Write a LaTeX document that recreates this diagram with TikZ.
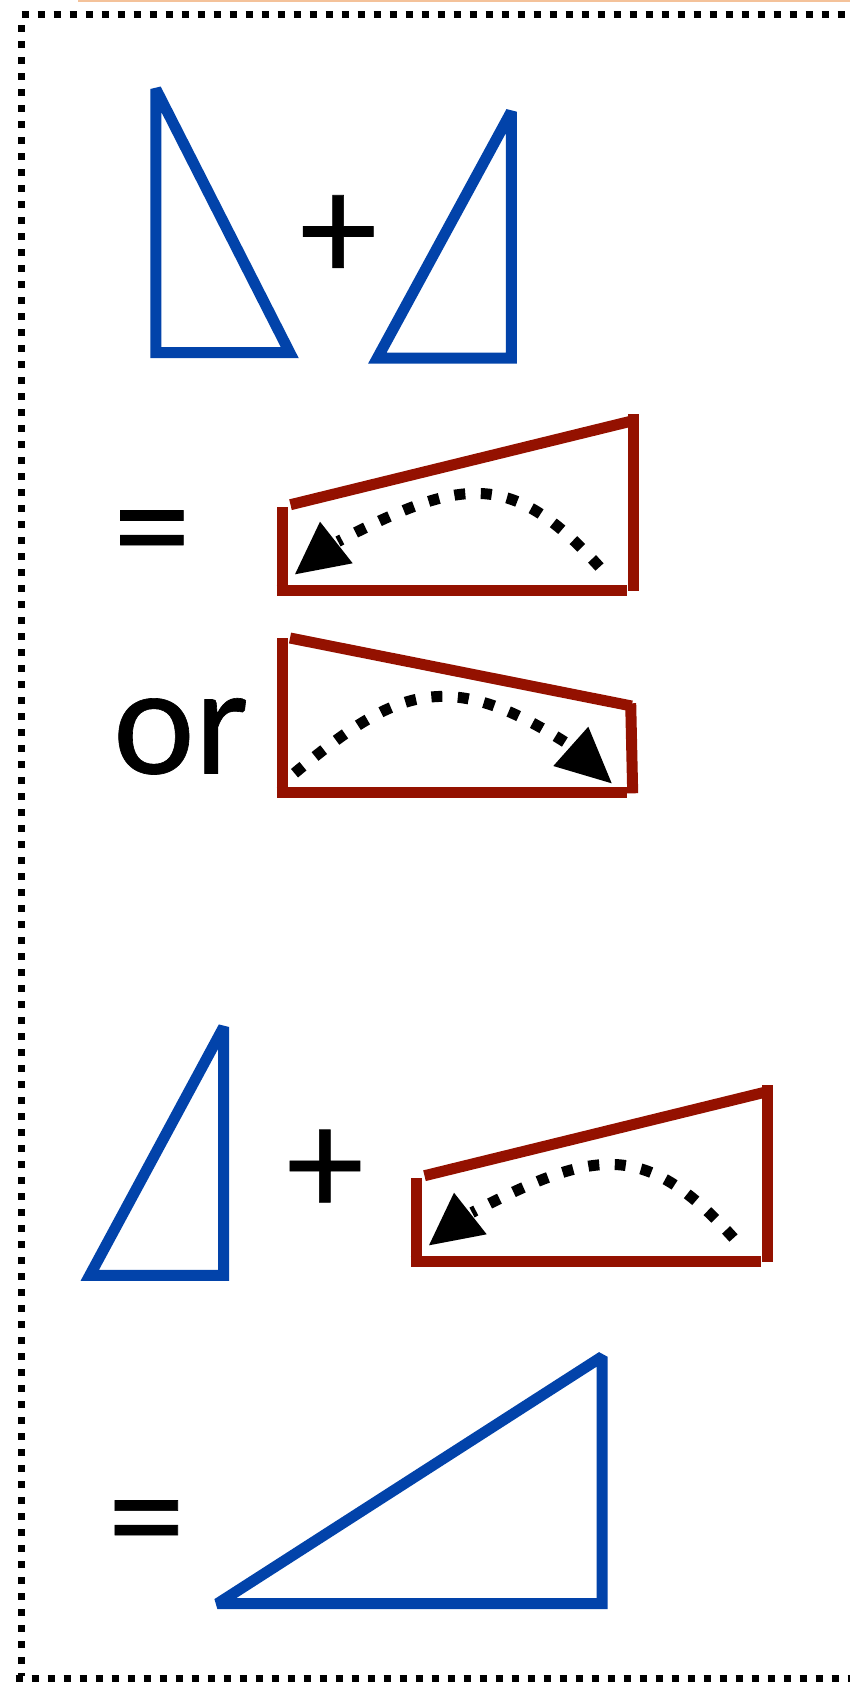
\documentclass[tikz,border=0pt]{standalone}
\usepackage{fontspec}
\newfontfamily\calib[FakeBold=0.4]{Carlito}
\definecolor{myblue}{RGB}{2,67,170}
\definecolor{myred}{RGB}{148,17,0}
\definecolor{mypeach}{RGB}{244,194,154}
\begin{document}
\begin{tikzpicture}[x=1pt,y=-1pt,
  blueline/.style={draw=myblue,line width=11pt,miter limit=2},
  redline/.style={draw=myred,line width=11pt},
  dotarc/.style={draw=black,line width=11pt,dash pattern=on 11pt off 15.5pt},
  headtip/.style={fill=black},
  border/.style={draw=black,line width=7pt,dash pattern=on 7pt off 9pt},
  sym/.style={inner sep=0pt,font=\calib\fontsize{155}{160}\selectfont},
  redleft/.pic={
    \draw[redline] (282.7,507) -- (282.7,595);
    \draw[redline] (276.7,590) -- (626.7,590);
    \draw[redline] (633,414) -- (633,591);
    \draw[redline] (290.5,504.7) -- (633,420.7);
    \draw[dotarc] (599.5,567) .. controls (511,469) and (461.6,477.6) .. (338,541.5);
    \fill[headtip] (295,574.3) -- (320,521.7) -- (352.7,563.3) -- cycle;
  }]
\useasboundingbox (0,0) rectangle (850,1682);
\fill[white] (0,0) rectangle (850,1682);
\draw[mypeach,line width=4pt] (78,0) -- (850,0);
% dotted frame
\draw[border] (21.5,14.5) -- (860,14.5);
\draw[border] (21,25) -- (21,1676);
\draw[border] (15.5,1678) -- (860,1678);
% blue triangles
\draw[blueline] (155.8,89) -- (289.8,352.7) -- (155.8,352.7) -- cycle;
\draw[blueline] (511.3,111.7) -- (511.3,358) -- (377.4,358) -- cycle;
\draw[blueline] (223.7,1027) -- (223.7,1275.3) -- (89.8,1275.3) -- cycle;
\draw[blueline] (602,1356.7) -- (602,1603.7) -- (217.4,1603.7) -- cycle;
% texts
\node[sym,anchor=base] (plusA) at (338.3,280.5) {+};
\node[sym,anchor=base] (eqA) at (152,577) {=};
\node[sym,anchor=base west] (orA) at (112.8,773.5) {or};
\node[sym,anchor=base] (plusB) at (325,1215) {+};
\node[sym,anchor=base] (eqB) at (146.3,1567) {=};
% red shapes
\pic at (0,0) {redleft};
\draw[redline] (282.7,638) -- (282.7,797);
\draw[redline] (290,638) -- (631.7,706);
\draw[redline] (630.7,703.3) -- (632.7,793.3);
\draw[redline] (276.7,792.3) -- (626.7,792.3);
\draw[dotarc] (294.5,773.2) .. controls (394.6,690) and (446.2,665.7) .. (568,744);
\fill[headtip] (611.7,783.3) -- (588.3,726.7) -- (553.3,766) -- cycle;
\pic at (134,671) {redleft};
\end{tikzpicture}
\end{document}
